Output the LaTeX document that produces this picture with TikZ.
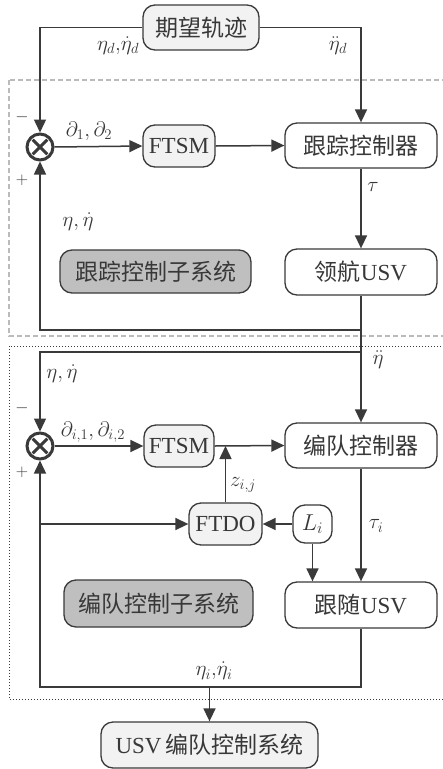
\RequirePackage{fix-cm}
\documentclass[tikz,border=0pt]{standalone}
\usepackage{fontspec}
\setmainfont{Liberation Serif}
\newfontfamily\cjk{Noto Sans CJK SC}
\usetikzlibrary{arrows.meta,calc}
\definecolor{ln}{HTML}{3A3A3A}
\definecolor{tx}{HTML}{383838}
\definecolor{lightf}{HTML}{F2F2F2}
\definecolor{darkf}{HTML}{BFBFBF}
\definecolor{dashc}{HTML}{BBBBBB}
\tikzset{
  blk/.style={draw=ln, line width=1.3pt, rounded corners=12pt, text=tx, minimum width=#1, inner sep=0pt, font=\fontsize{23}{25}\selectfont},
  blk/.default=152pt,
  sumnode/.style={draw=ln, line width=3pt, circle, minimum size=26pt, inner sep=0pt,
    path picture={\draw[ln, line width=3pt] ($(path picture bounding box.north west)!0.22!(path picture bounding box.south east)$) -- ($(path picture bounding box.north west)!0.78!(path picture bounding box.south east)$);
      \draw[ln, line width=3pt] ($(path picture bounding box.north east)!0.22!(path picture bounding box.south west)$) -- ($(path picture bounding box.north east)!0.78!(path picture bounding box.south west)$);}},
  conn/.style={draw=ln, line width=1.5pt},
  arr/.style={conn, -{Triangle[length=13pt,width=12pt]}},
  lbl/.style={text=tx, inner sep=0pt, font=\fontsize{21}{22}\selectfont},
  sgn/.style={text=tx, inner sep=0pt, font=\fontsize{17}{18}\selectfont},
}
\begin{document}
\begin{tikzpicture}[x=1pt,y=-1pt]
\useasboundingbox[fill=white] (0,0) rectangle (443,769);
% frames
\begin{scope}
\clip (0,0) rectangle (443,769);
\draw[dashc, line width=1.3pt, dash pattern=on 5pt off 3pt] (9,80) rectangle (460,336);
\draw[ln, line width=1pt, dash pattern=on 1.2pt off 1.8pt] (9,346) rectangle (460,699);
\end{scope}
% nodes
\node[blk=116pt, minimum height=45pt, fill=lightf] (qw) at (201,27.5) {\cjk 期望轨迹};
\node[sumnode] (s1) at (40,147) {};
\node[blk=72pt, minimum height=42pt, fill=lightf] (f1) at (179,146) {FTSM};
\node[blk, minimum height=45pt, fill=white] (gz) at (361,145.5) {\cjk 跟踪控制器};
\node[blk, minimum height=46pt, fill=white] (lh) at (361,272) {{\cjk 领航}USV};
\node[blk=191pt, minimum height=43pt, fill=darkf] (gzs) at (155.5,271.5) {\cjk 跟踪控制子系统};
\node[sumnode] (s2) at (40,446) {};
\node[blk=70pt, minimum height=42pt, fill=lightf] (f2) at (179,446) {FTSM};
\node[blk, minimum height=45pt, fill=white] (bd) at (361,445.5) {\cjk 编队控制器};
\node[blk=73pt, minimum height=42pt, fill=lightf] (fd) at (225.5,524) {FTDO};
\node[blk=39pt, minimum height=38pt, fill=white] (li) at (312.5,524) {$L_{i}$};
\node[blk, minimum height=46pt, fill=white] (gs) at (361,605) {{\cjk 跟随}USV};
\node[blk=189pt, minimum height=47pt, fill=darkf] (bds) at (158.5,603.5) {\cjk 编队控制子系统};
\node[blk=217pt, minimum height=46pt, fill=lightf] (usv) at (209.5,745) {USV\,{\cjk 编队控制系统}};
% junction coordinates
\coordinate (j1) at (361,330);
\coordinate (j2) at (361,352);
\coordinate (j3) at (40,524);
\coordinate (j4) at (361,687);
\coordinate (j5) at (209.5,687);
\coordinate (j6) at (225.5,446);
% connectors
\draw[arr] (qw.west) -| (s1.north);
\draw[arr] (qw.east) -| (gz.north);
\draw[arr] (s1.east) -- (f1.west);
\draw[arr] (f1.east) -- (gz.west);
\draw[arr] (gz.south) -- (lh.north);
\draw[arr] (lh.south) -- (j1) -| (s1.south);
\draw[arr] (j1) -- (bd.north);
\draw[arr] (j2) -| (s2.north);
\draw[arr] (s2.east) -- (f2.west);
\draw[arr] (f2.east) -- (bd.west);
\draw[arr] (fd.north) -- (j6);
\draw[arr] (li.west) -- (fd.east);
\draw[arr] (j3) -- (fd.west);
\draw[arr] (li.south) -- (li.south |- gs.north);
\draw[arr] (bd.south) -- (gs.north);
\draw[arr] (gs.south) -- (j4) -| (s2.south);
\draw[arr] (j5) -- (usv.north);
% labels
\node[lbl] (l1) at (118,46) {$\eta_{d}{,}\dot\eta_{d}$};
\node[lbl] (l2) at (338,46) {$\ddot\eta_{d}$};
\node[sgn] (m1) at (22,117) {$-$};
\node[sgn] (p1) at (22,180) {$+$};
\node[lbl] (l3) at (89,131) {$\partial_{1},\partial_{2}$};
\node[lbl] (l4) at (373,187) {$\tau$};
\node[lbl] (l5) at (78,222) {$\eta,\dot\eta$};
\node[lbl] (l6) at (378,360) {$\ddot\eta$};
\node[lbl] (l7) at (62,374) {$\eta,\dot\eta$};
\node[sgn] (m2) at (22,408) {$-$};
\node[sgn] (p2) at (22,472) {$+$};
\node[lbl] (l8) at (93,432) {$\partial_{i,1},\partial_{i,2}$};
\node[lbl] (l9) at (243,485) {$z_{i,j}$};
\node[lbl] (l10) at (376,526) {$\tau_{i}$};
\node[lbl] (l11) at (214,671) {$\eta_{i}{,}\dot\eta_{i}$};
\end{tikzpicture}
\end{document}
